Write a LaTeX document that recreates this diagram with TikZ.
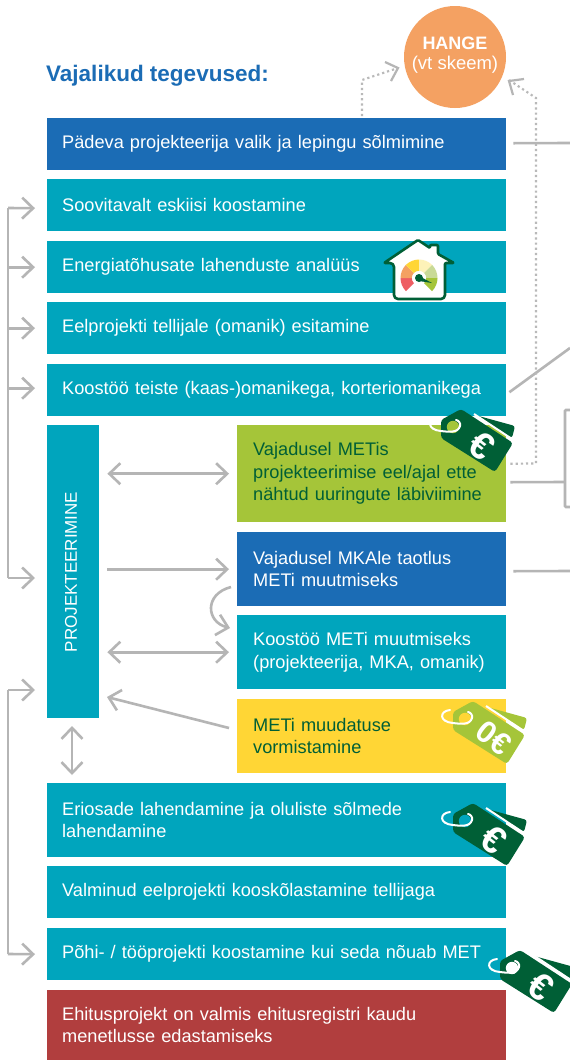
\documentclass[tikz,border=0pt]{standalone}
\usepackage{fontspec}
\setmainfont{Liberation Sans}
\usetikzlibrary{arrows.meta,calc}
\definecolor{cblue}{HTML}{1B6CB5}
\definecolor{cteal}{HTML}{00A5BD}
\definecolor{cgreen}{HTML}{A5C539}
\definecolor{cyellow}{HTML}{FFD635}
\definecolor{cred}{HTML}{B13E3E}
\definecolor{corange}{HTML}{F4A162}
\definecolor{cdark}{HTML}{005F36}
\definecolor{cgray}{HTML}{B5B5B5}
\definecolor{cdot}{HTML}{B9B9B9}
\definecolor{ctitle}{HTML}{1B6CB5}
\tikzset{
  wide/.style={rectangle,anchor=north west,fill=#1,minimum width=459pt,text width=429pt,inner xsep=15pt,inner ysep=0pt,align=left,text=white,font=\fontsize{18.2}{22.5}\selectfont},
  side/.style={rectangle,anchor=north west,fill=#1,minimum width=269pt,text width=237pt,inner xsep=16pt,inner ysep=0pt,align=left,text=white,font=\fontsize{18.2}{22.5}\selectfont},
  conn/.style={draw=cgray,line width=2.6pt},
  fwd/.style={conn,-{Straight Barb[length=11pt,width=21pt,line width=2.6pt]}},
  both/.style={conn,{Straight Barb[length=11pt,width=21pt,line width=2.6pt]}-{Straight Barb[length=11pt,width=21pt,line width=2.6pt]}},
  dots/.style={draw=cdot,line width=2.2pt,dash pattern=on 2.2pt off 3pt},
  tagtext/.style={text=white,font=\bfseries\fontsize{#1}{#1}\selectfont,inner sep=0pt,rotate=-38}
}
\newcommand{\pricetag}[7]{% name, x, y, bg, tag colour, size, text
  \begin{scope}[shift={(#2,#3)}]
    \fill[rounded corners=2.5pt,fill=#5] (22,12) -- (62,1) -- (59,-11) -- (40,0) -- cycle;
    \draw[white,line width=2pt] (21,13) -- (59,-12);
    \fill[#5,rounded corners=3pt] (8,18) -- (60,-16) -- (42,-45) -- (-12,-11) -- (-12,7) -- cycle;
    \fill[#4] (0,0) circle (6.2);
    \draw[white,line width=2pt,line cap=round] (-15,9) .. controls (-26,8) and (-26,-3) .. (-12,-4) .. controls (-4,-5) and (5,-6) .. (7,1) .. controls (8,4) and (5,7) .. (3,7);
    \node[tagtext=#6] (#1) at (29,-19) {#7};
  \end{scope}}
\begin{document}
\begin{tikzpicture}[x=1pt,y=1pt]
\useasboundingbox (0,0) rectangle (570,-1061);
\clip (0,0) rectangle (570,-1061);
\fill[white] (0,0) rectangle (570,-1061);

% boxes
\node[wide=cblue,minimum height=52pt] (a1) at (47,-118) {\raisebox{-1pt}{Pädeva projekteerija valik ja lepingu sõlmimine}};
\node[wide=cteal,minimum height=52pt] (a2) at (47,-179) {Soovitavalt eskiisi koostamine};
\node[wide=cteal,minimum height=52pt] (a3) at (47,-241) {\raisebox{-2pt}{Energiatõhusate lahenduste analüüs}};
\node[wide=cteal,minimum height=52pt] (a4) at (47,-302) {\raisebox{-1pt}{Eelprojekti tellijale (omanik) esitamine}};
\node[wide=cteal,minimum height=52pt] (a5) at (47,-364) {Koostöö teiste (kaas-)omanikega, korteriomanikega};
\node[rectangle,anchor=north west,fill=cteal,minimum width=52pt,minimum height=293pt,inner sep=0pt] (proj) at (47,-425) {};
\node[text=white,rotate=90,inner sep=0pt,font=\fontsize{17}{20}\selectfont] (projt) at (71,-572) {PROJEKTEERIMINE};
\node[side=cgreen,minimum height=97pt,text=cdark] (b1) at (237,-425) {Vajadusel METis\\projekteerimise eel/ajal ette\\nähtud uuringute läbiviimine};
\node[side=cblue,minimum height=74pt] (b2) at (237,-532) {Vajadusel MKAle taotlus\\METi muutmiseks};
\node[side=cteal,minimum height=74pt] (b3) at (237,-615) {Koostöö METi muutmiseks\\(projekteerija, MKA, omanik)};
\node[side=cyellow,minimum height=74pt,text=cdark] (b4) at (237,-699) {METi muudatuse\\vormistamine};
\node[wide=cteal,minimum height=74pt] (c1) at (47,-783) {Eriosade lahendamine ja oluliste sõlmede\\lahendamine};
\node[wide=cteal,minimum height=52pt] (c2) at (47,-866) {\raisebox{-1pt}{Valminud eelprojekti kooskõlastamine tellijaga}};
\node[wide=cteal,minimum height=52pt] (c3) at (47,-928) {Põhi- / tööprojekti koostamine kui seda nõuab MET};
\node[wide=cred,minimum height=70pt] (c4) at (47,-990) {Ehitusprojekt on valmis ehitusregistri kaudu\\menetlusse edastamiseks};

\node[anchor=west,inner sep=0pt,text=ctitle,font=\bfseries\fontsize{22.5}{24}\selectfont] (title) at (46,-76) {Vajalikud tegevused:};
\node[circle,fill=corange,minimum size=102pt,inner sep=0pt] (hange) at (455,-57) {};
\node[inner sep=0pt,text=white,font=\bfseries\fontsize{18}{22}\selectfont] (hange1) at (455,-43) {HANGE};
\node[inner sep=0pt,text=white,font=\fontsize{18.5}{22}\selectfont] (hange2) at (455,-65) {(vt skeem)};

% left brackets
\coordinate (lt) at (8,-208);
\coordinate (lb) at (8,-578);
\coordinate (mt) at (8,-690);
\coordinate (mb) at (8,-954);
\draw[conn] (lt) -- (lb);
\draw[conn] (mt) -- (mb);
\draw[fwd] (lt) -- ([xshift=-12pt,yshift=-3pt]a2.west);
\draw[fwd] (lt |- a3.west) -- ([xshift=-12pt]a3.west);
\draw[fwd] (lt |- a4.west) -- ([xshift=-12pt]a4.west);
\coordinate (a5t) at ([xshift=-12pt,yshift=2pt]a5.west);
\draw[fwd] (lt |- a5t) -- (a5t);
\draw[fwd] (lb) -- ([xshift=-12pt]proj.west |- lb);
\draw[fwd] (mt) -- ([xshift=-12pt]proj.west |- mt);
\draw[fwd] (mb) -- ([xshift=-12pt]c3.west);

% middle arrows
\draw[both] ([xshift=8pt]proj.east |- b1.west) -- ([xshift=-8pt]b1.west);
\draw[fwd] ([xshift=8pt]proj.east |- b2.west) -- ([xshift=-8pt]b2.west);
\draw[both] ([xshift=8pt]proj.east |- b3.west) -- ([xshift=-8pt]b3.west);
\coordinate (y4from) at (229,-728);
\coordinate (y4to) at (107,-697);
\draw[fwd] (y4from) -- (y4to);
\coordinate (vtop) at (72,-726);
\coordinate (vbot) at (72,-775);
\draw[both] (vtop) -- (vbot);
\coordinate (cs) at (231,-587);
\coordinate (ce) at (230,-628);
\draw[fwd] (cs) .. controls (204,-594) and (206,-622) .. (ce);

% right stubs
\coordinate (e1) at (570,-143);
\coordinate (e2) at (570,-348);
\coordinate (e3) at (570,-571);
\coordinate (bk) at (565,-482);
\draw[conn] ([xshift=7pt,yshift=1pt]a1.east) -- (e1);
\draw[conn] ([xshift=3pt,yshift=-2pt]a5.east) -- (e2);
\draw[conn] ([xshift=7pt,yshift=-2pt]b2.east) -- (e3);
\draw[conn] ([xshift=4pt,yshift=-8.5pt]b1.east) -- (bk);
\draw[conn,rounded corners=1pt] (570,-410) -- (565,-410) -- (565,-507) -- (570,-507);

% dotted links
\coordinate (d1) at (362,-80);
\coordinate (d2) at (398,-68);
\coordinate (d3) at (536,-463.5);
\coordinate (d4) at (536,-98);
\coordinate (d5) at (509,-80);
\draw[dots] (362,-116) -- (d1) -- (d2);
\draw[conn,line width=2.2pt] (385,-62) -- (398,-68) -- (391,-81);
\draw[dots] ([xshift=4pt,yshift=10pt]b1.east) -- (d3) -- (d4) -- (d5);
\draw[conn,line width=2.2pt] (513,-95) -- (509,-81) -- (524,-79);

% house
\filldraw[draw=cdark,fill=white,line width=2.6pt,line join=round,rounded corners=1pt]
  (384,-263) -- (418,-240) -- (430,-248) -- (430,-245) -- (438,-245) -- (438,-254) -- (454,-263) -- (445,-263)
  [rounded corners=4pt] -- (445,-299) -- (394,-299) -- (394,-263) [rounded corners=1pt] -- cycle;
\begin{scope}[shift={(419,-278)}]
  \foreach \a/\b/\c in {225/180/EE5E63,180/135/F4A162,135/90/FFD635,90/45/FDF2B8,45/0/C9DA96,0/-45/A5C539}{
    \definecolor{seg}{HTML}{\c}
    \fill[seg] (\a:7) -- (\a:18.5) arc[start angle=\a,end angle=\b,radius=18.5] -- (\b:7) arc[start angle=\b,end angle=\a,radius=7] -- cycle;
  }
  \fill[white] (0,0) circle (7);
  \fill[cdark] (0,0) circle (4);
  \fill[cdark] (-1,2.5) -- (13,-5) -- (0,-3) -- cycle;
\end{scope}

% price tags
\pricetag{t1}{453}{-427}{cgreen}{cdark}{38}{€}
\pricetag{t2}{465}{-719}{cyellow}{cgreen}{31}{0€}
\pricetag{t3}{465}{-821}{cteal}{cdark}{38}{€}
\pricetag{t4}{512}{-968}{white}{cdark}{38}{€}
\end{tikzpicture}
\end{document}
